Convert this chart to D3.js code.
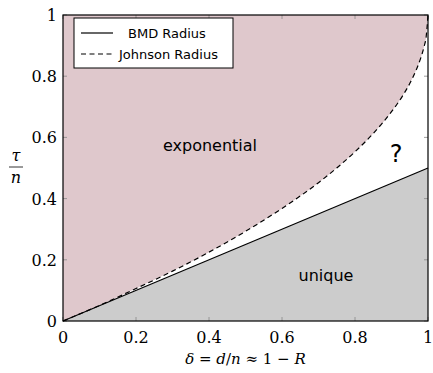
<!DOCTYPE html>
<html>
<head>
<meta charset="utf-8">
<script src="https://cdn.jsdelivr.net/npm/d3@7"></script>
<style>
  body { margin: 0; background: #fff; }
  svg { display: block; }
  .serif { font-family: "DejaVu Serif", "Liberation Serif", serif; }
  .sans { font-family: "DejaVu Sans", sans-serif; }
</style>
</head>
<body>
<svg id="chart"></svg>
<script>
// values
const deltaValues = [0, 0.1, 0.2, 0.3, 0.4, 0.5, 0.6, 0.7, 0.75, 0.8, 0.85, 0.9, 0.93, 0.95, 0.97, 0.98, 0.99, 0.995, 1];
const johnsonValues = [0, 0.051, 0.106, 0.163, 0.225, 0.293, 0.368, 0.452, 0.5, 0.553, 0.613, 0.684, 0.735, 0.776, 0.827, 0.859, 0.9, 0.929, 1];
const bmdDelta = [0, 1];
const bmdValues = [0, 0.5];
const tickValues = [0, 0.2, 0.4, 0.6, 0.8, 1];
const tickLabels = ['0', '0.2', '0.4', '0.6', '0.8', '1'];
const legendLabels = ['BMD Radius', 'Johnson Radius'];

const width = 433;
const height = 373;
const margin = { top: 15, right: 5, bottom: 52, left: 63 };

const svg = d3.select('#chart').attr('width', width).attr('height', height);

const x = d3.scaleLinear().domain([0, 1]).range([margin.left, width - margin.right]);
const y = d3.scaleLinear().domain([0, 1]).range([height - margin.bottom, margin.top]);

const johnson = deltaValues.map((d, i) => [d, johnsonValues[i]]);
const bmd = bmdDelta.map((d, i) => [d, bmdValues[i]]);

const line = d3.line().x((d) => x(d[0])).y((d) => y(d[1])).curve(d3.curveMonotoneX);

// exponential region (above johnson)
const areaTop = d3.area().x((d) => x(d[0])).y0(y(1)).y1((d) => y(d[1])).curve(d3.curveMonotoneX);
svg.append('path').datum(johnson).attr('d', areaTop).attr('fill', '#dfc8cc');

// unique region (below bmd)
const areaBottom = d3.area().x((d) => x(d[0])).y0(y(0)).y1((d) => y(d[1]));
svg.append('path').datum(bmd).attr('d', areaBottom).attr('fill', '#cccccc');

// ticks, inward on all four sides
const tickLen = 4;
const g = svg.append('g').attr('stroke', '#888').attr('stroke-width', 0.8);
tickValues.forEach((t) => {
  g.append('line').attr('x1', x(t)).attr('x2', x(t)).attr('y1', y(0)).attr('y2', y(0) - tickLen);
  g.append('line').attr('x1', x(t)).attr('x2', x(t)).attr('y1', y(1)).attr('y2', y(1) + tickLen);
  g.append('line').attr('y1', y(t)).attr('y2', y(t)).attr('x1', x(0)).attr('x2', x(0) + tickLen);
  g.append('line').attr('y1', y(t)).attr('y2', y(t)).attr('x1', x(1)).attr('x2', x(1) - tickLen);
});

// curves
svg.append('path').datum(bmd).attr('d', line).attr('fill', 'none').attr('stroke', '#000').attr('stroke-width', 1.2);
svg.append('path').datum(johnson).attr('d', line).attr('fill', 'none').attr('stroke', '#000')
  .attr('stroke-width', 1.2).attr('stroke-dasharray', '5,3.5');

// frame
svg.append('rect').attr('x', x(0)).attr('y', y(1)).attr('width', x(1) - x(0)).attr('height', y(0) - y(1))
  .attr('fill', 'none').attr('stroke', '#000').attr('stroke-width', 1.2);

// tick labels
svg.selectAll('.xt').data(tickValues).join('text').attr('class', 'serif')
  .attr('x', (d) => x(d)).attr('y', y(0) + 22)
  .attr('text-anchor', 'middle').attr('font-size', 16)
  .text((d, i) => tickLabels[i]);
svg.selectAll('.yt').data(tickValues).join('text').attr('class', 'serif')
  .attr('x', x(0) - 6).attr('y', (d) => y(d) + 6)
  .attr('text-anchor', 'end').attr('font-size', 16)
  .text((d, i) => tickLabels[i]);

// axis labels
const xl = svg.append('text').attr('class', 'serif').attr('x', (x(0) + x(1)) / 2).attr('y', 364)
  .attr('text-anchor', 'middle').attr('font-size', 15);
xl.append('tspan').attr('font-style', 'italic').text('δ');
xl.append('tspan').text(' = ');
xl.append('tspan').attr('font-style', 'italic').text('d');
xl.append('tspan').text('/');
xl.append('tspan').attr('font-style', 'italic').text('n');
xl.append('tspan').text(' ≈ 1 − ');
xl.append('tspan').attr('font-style', 'italic').text('R');

svg.append('text').attr('class', 'serif').attr('x', 16).attr('y', 161).attr('text-anchor', 'middle')
  .attr('font-style', 'italic').attr('font-size', 16).text('τ');
svg.append('line').attr('x1', 9).attr('x2', 23).attr('y1', 167).attr('y2', 167).attr('stroke', '#000').attr('stroke-width', 0.8);
svg.append('text').attr('class', 'serif').attr('x', 16).attr('y', 183).attr('text-anchor', 'middle')
  .attr('font-style', 'italic').attr('font-size', 16).text('n');

// region labels
svg.append('text').attr('class', 'sans').attr('x', 210).attr('y', 151).attr('text-anchor', 'middle')
  .attr('font-size', 16).text('exponential');
svg.append('text').attr('class', 'sans').attr('x', 396).attr('y', 162).attr('text-anchor', 'middle')
  .attr('font-size', 24).text('?');
svg.append('text').attr('class', 'sans').attr('x', 326).attr('y', 281).attr('text-anchor', 'middle')
  .attr('font-size', 16).text('unique');

// legend
const lg = svg.append('g').attr('transform', 'translate(74,18)');
lg.append('rect').attr('width', 159).attr('height', 50).attr('fill', '#fff').attr('stroke', '#000').attr('stroke-width', 1);
legendLabels.forEach((lab, i) => {
  const yy = 15 + i * 21;
  lg.append('line').attr('x1', 7).attr('x2', 39).attr('y1', yy).attr('y2', yy)
    .attr('stroke', '#000').attr('stroke-width', 1.2).attr('stroke-dasharray', i ? '5,3.5' : null);
  lg.append('text').attr('class', 'sans').attr('x', i ? 45 : 54).attr('y', yy + 5)
    .attr('font-size', 13).text(lab);
});
</script>
</body>
</html>
